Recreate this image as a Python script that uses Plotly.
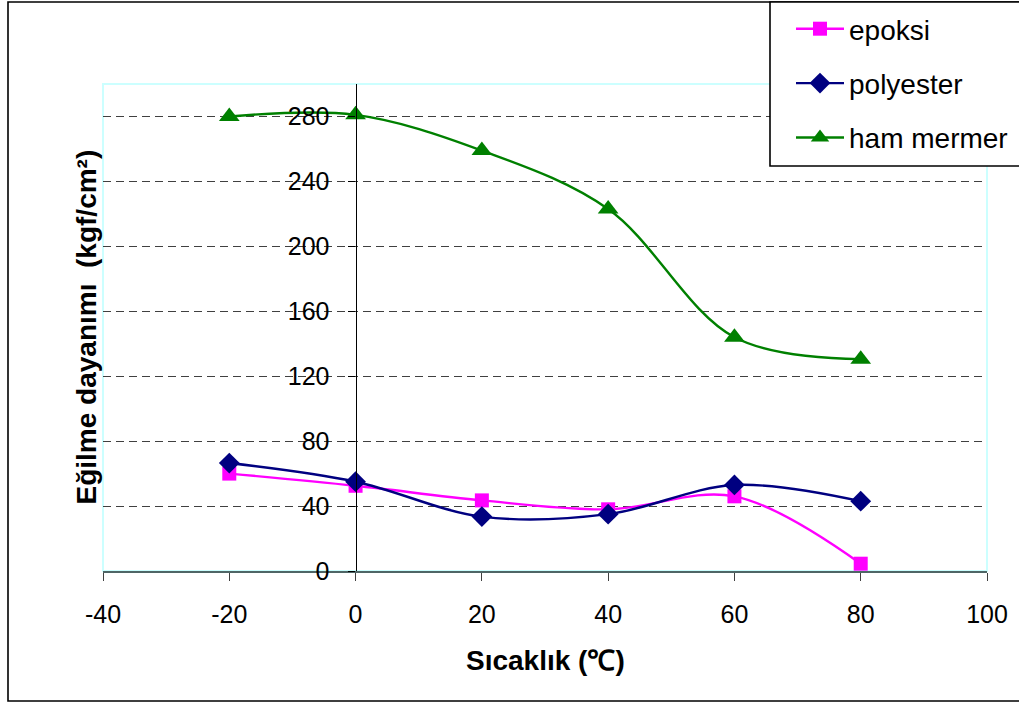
import plotly.graph_objects as go

# Sıcaklık değerleri (°C)
sicaklik = [-20, 0, 20, 40, 60, 80]

# Eğilme dayanımı (kgf/cm²)
epoksi = [60, 52.5, 43.5, 38, 46, 4.5]
polyester = [66.5, 55, 33.5, 35, 53, 43]
ham_mermer = [280, 281, 259, 223, 144, 130.5]

x_ticks = [-40, -20, 0, 20, 40, 60, 80, 100]
x_tick_text = ["-40", "-20", "0", "20", "40", "60", "80", "100"]
y_ticks = [0, 40, 80, 120, 160, 200, 240, 280]

W, H = 1019, 703
L, R, T, B = 103, 32, 84, 132
PW, PH = W - L - R, H - T - B


def px_x(x):
    return (x - L) / PW


def px_y(y):
    return (H - B - y) / PH


FONT = "Liberation Sans, Arial, sans-serif"

fig = go.Figure()

series = [
    ("epoksi", epoksi, "#ff00ff", "square", 14),
    ("polyester", polyester, "#000080", "diamond", 16),
    ("ham mermer", ham_mermer, "#008000", "triangle-up", 18),
]
for name, vals, color, symbol, size in series:
    fig.add_trace(go.Scatter(
        x=sicaklik, y=vals, name=name, mode="lines+markers",
        line=dict(color=color, width=2.4, shape="spline", smoothing=1),
        marker=dict(symbol=symbol, size=size, color=color,
                    line=dict(width=0)),
        legendgroup=name,
    ))

# outer chart frame
fig.add_shape(type="rect", xref="paper", yref="paper",
              x0=px_x(8), x1=px_x(1040), y0=px_y(701), y1=px_y(2),
              line=dict(color="black", width=1.6), layer="below")
# plot area frame
fig.add_shape(type="rect", xref="paper", yref="paper",
              x0=0, x1=1, y0=0, y1=1,
              line=dict(color="#ccffff", width=2), layer="below")
# legend frame
fig.add_shape(type="rect", xref="paper", yref="paper",
              x0=px_x(770), x1=px_x(1040), y0=px_y(166), y1=px_y(2),
              line=dict(color="black", width=1.6), fillcolor="white",
              layer="above")

fig.add_annotation(text="Sıcaklık (℃)", xref="paper", yref="paper",
                   x=0.5, y=px_y(660), showarrow=False,
                   xanchor="center", yanchor="middle",
                   font=dict(family=FONT, size=28, color="black", weight="bold"))
fig.add_annotation(text="Eğilme dayanımı  (kgf/cm²)", xref="paper", yref="paper",
                   x=px_x(86), y=0.5, showarrow=False, textangle=-90,
                   xanchor="center", yanchor="middle",
                   font=dict(family=FONT, size=28, color="black", weight="bold"))

fig.update_layout(
    width=W, height=H,
    margin=dict(l=L, r=R, t=T, b=B, pad=0, autoexpand=False),
    paper_bgcolor="white", plot_bgcolor="white",
    font=dict(family=FONT, size=24, color="black"),
    showlegend=True,
    legend=dict(x=px_x(791), y=px_y(4), xanchor="left", yanchor="top",
                bgcolor="rgba(0,0,0,0)", borderwidth=0, itemwidth=48,
                font=dict(family=FONT, size=28, color="black"),
                tracegroupgap=15, traceorder="grouped"),
    xaxis=dict(range=[-40, 100], tickvals=x_ticks, ticktext=x_tick_text,
               ticks="outside", ticklen=8, tickcolor="#404040",
               showline=True, linecolor="#4f6666", linewidth=1.5,
               showgrid=False, zeroline=False, ticklabelstandoff=12,
               tickfont=dict(family=FONT, size=25, color="black")),
    yaxis=dict(range=[0, 300], tickvals=y_ticks, ticks="outside",
               ticklen=7, tickcolor="black", showline=True,
               linecolor="black", linewidth=1.2,
               anchor="free", position=40 / 140,
               showgrid=True, gridcolor="#404040", gridwidth=1,
               griddash="8px,5px", zeroline=False, ticklabelstandoff=14,
               tickfont=dict(family=FONT, size=25, color="black")),
)

fig.write_html("out.html")
